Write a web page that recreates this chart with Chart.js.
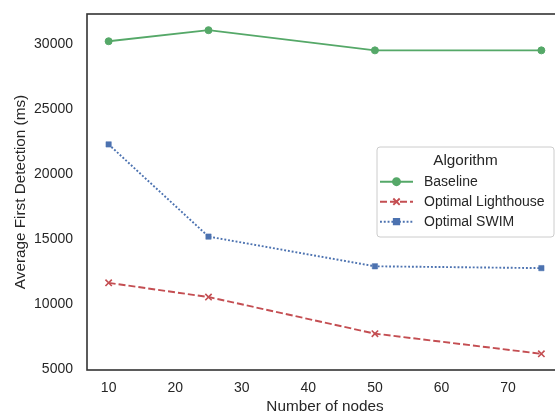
<!DOCTYPE html>
<html><head><meta charset="utf-8">
<script src="https://cdn.jsdelivr.net/npm/chart.js@4"></script>
<style>html,body{margin:0;padding:0;overflow:hidden;background:#fff;width:555px;height:417px}canvas{display:block}</style>
</head><body>
<canvas id="c" width="570" height="417"></canvas>
<script>
const nodes = [10, 25, 50, 75];
const baseline = [30200, 31050, 29500, 29500];
const lighthouse = [11650, 10560, 7750, 6200];
const swim = [22280, 15200, 12920, 12780];
const xTicks = [10, 20, 30, 40, 50, 60, 70];
const yTicks = [5000, 10000, 15000, 20000, 25000, 30000];
const seriesNames = ['Baseline', 'Optimal Lighthouse', 'Optimal SWIM'];

const FONT = '"Liberation Sans", Arial, sans-serif';
const TXT = '#262626';

function pts(vals) { return nodes.map((x, i) => ({x: x, y: vals[i]})); }

const frame = {
  id: 'frame',
  afterDatasetsDraw(chart) {
    const {ctx, chartArea: a} = chart;
    ctx.save();
    ctx.strokeStyle = '#333333';
    ctx.lineWidth = 1.6;
    ctx.strokeRect(a.left, a.top, a.right - a.left, a.bottom - a.top);
    ctx.restore();
  }
};

const legendBox = {
  id: 'legendBox',
  afterDraw(chart) {
    const ctx = chart.ctx;
    const x0 = 377, y0 = 147, x1 = 554, y1 = 237;
    ctx.save();
    ctx.beginPath();
    if (ctx.roundRect) ctx.roundRect(x0, y0, x1 - x0, y1 - y0, 3); else ctx.rect(x0, y0, x1 - x0, y1 - y0);
    ctx.fillStyle = 'rgba(255,255,255,0.8)';
    ctx.fill();
    ctx.strokeStyle = '#cccccc';
    ctx.lineWidth = 1;
    ctx.stroke();
    ctx.fillStyle = TXT;
    ctx.textBaseline = 'middle';
    ctx.textAlign = 'center';
    ctx.font = '15.3px ' + FONT;
    ctx.fillText('Algorithm', (x0 + x1) / 2, 161);
    ctx.textAlign = 'left';
    ctx.font = '14px ' + FONT;
    chart.data.datasets.forEach((ds, i) => {
      const y = 181.7 + i * 20;
      ctx.save();
      ctx.strokeStyle = ds.borderColor;
      ctx.lineWidth = ds.borderWidth;
      ctx.setLineDash(ds.borderDash || []);
      ctx.beginPath();
      ctx.moveTo(380, y);
      ctx.lineTo(413, y);
      ctx.stroke();
      ctx.setLineDash([]);
      ctx.fillStyle = ds.pointBackgroundColor;
      ctx.strokeStyle = ds.pointBorderColor;
      Chart.helpers.drawPoint(ctx, {pointStyle: ds.pointStyle, radius: ds.pointRadius, rotation: 0, borderWidth: ds.pointBorderWidth}, 396.5, y);
      ctx.restore();
      ctx.fillStyle = TXT;
      ctx.fillText(ds.label, 424, y);
    });
    ctx.restore();
  }
};

new Chart(document.getElementById('c'), {
  type: 'line',
  data: {
    datasets: [
      {label: seriesNames[0], data: pts(baseline), borderColor: '#55A868', backgroundColor: '#55A868',
       borderWidth: 1.9, pointStyle: 'circle', pointRadius: 3.5, pointBackgroundColor: '#55A868', pointBorderColor: '#55A868', pointBorderWidth: 1},
      {label: seriesNames[1], data: pts(lighthouse), borderColor: '#C44E52', backgroundColor: '#C44E52',
       borderWidth: 1.9, borderDash: [7, 3], pointStyle: 'crossRot', pointRadius: 4.5, pointBackgroundColor: '#C44E52', pointBorderColor: '#C44E52', pointBorderWidth: 1.6},
      {label: seriesNames[2], data: pts(swim), borderColor: '#4C72B0', backgroundColor: '#4C72B0',
       borderWidth: 1.9, borderDash: [1.9, 1.9], pointStyle: 'rect', pointRadius: 3.8, pointBackgroundColor: '#4C72B0', pointBorderColor: '#4C72B0', pointBorderWidth: 0.5}
    ]
  },
  options: {
    responsive: false,
    animation: false,
    devicePixelRatio: 1,
    layout: {padding: {top: 14, right: 7, left: 0, bottom: 0}},
    plugins: {legend: {display: false}, tooltip: {enabled: false}},
    scales: {
      x: {
        type: 'linear', min: 6.75, max: 78.25,
        grid: {display: false, drawTicks: false}, border: {display: false},
        afterBuildTicks: s => { s.ticks = xTicks.map(v => ({value: v})); },
        afterFit: s => { s.height = 47; s.paddingLeft = 0; s.paddingRight = 0; },
        ticks: {padding: 9.6, color: TXT, font: {family: FONT, size: 14}, callback: v => String(v)},
        title: {display: true, text: 'Number of nodes', color: TXT, font: {family: FONT, size: 15.3}, padding: {top: 0, bottom: 1}}
      },
      y: {
        type: 'linear', min: 4957.5, max: 32292,
        grid: {display: false, drawTicks: false}, border: {display: false},
        afterBuildTicks: s => { s.ticks = yTicks.map(v => ({value: v})); },
        afterFit: s => { s.width = 87; s.paddingTop = 0; s.paddingBottom = 0; },
        ticks: {padding: 14, color: TXT, font: {family: FONT, size: 14}, callback: v => String(v)},
        title: {display: true, text: 'Average First Detection (ms)', color: TXT, font: {family: FONT, size: 15.3}, padding: {top: 11.3, bottom: 0}}
      }
    }
  },
  plugins: [frame, legendBox]
});
</script>
</body></html>
